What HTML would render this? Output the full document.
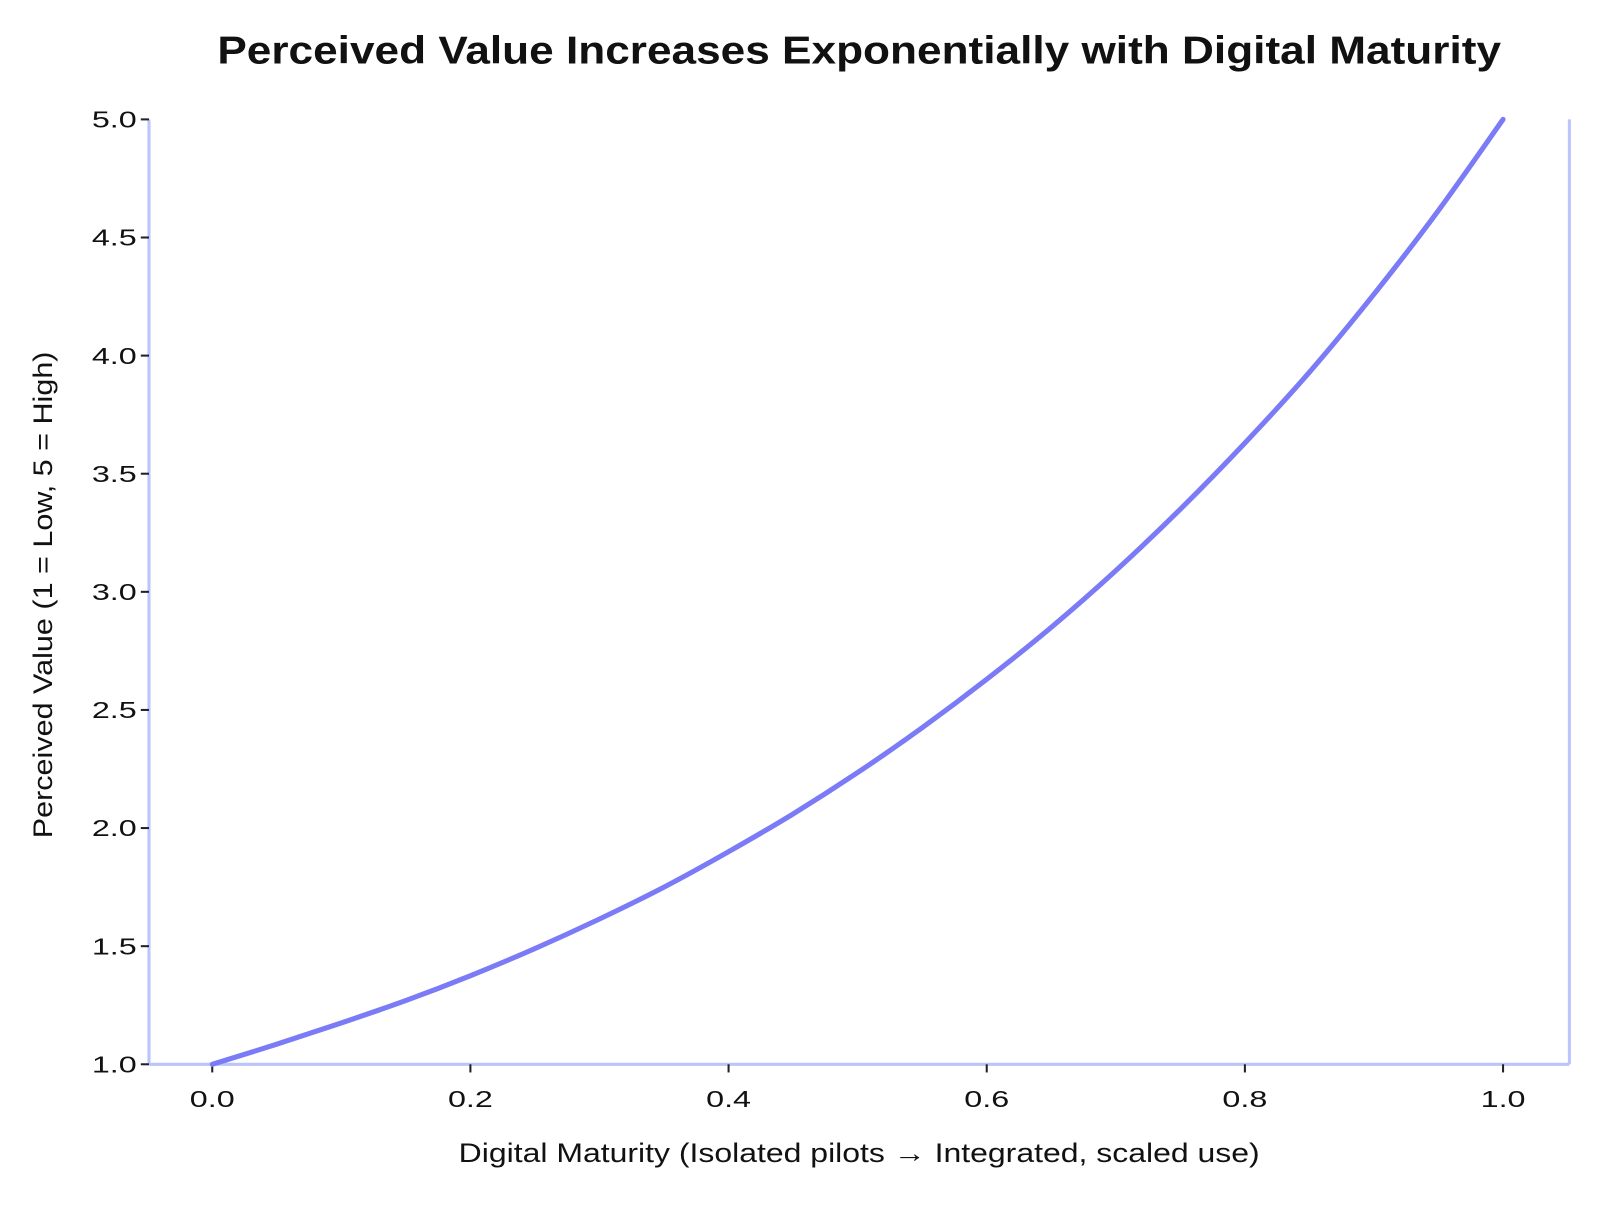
<!DOCTYPE html>
<html><head><meta charset="utf-8"><style>
html,body{margin:0;padding:0;background:#fff;}
svg text{font-family:"Liberation Sans",sans-serif;fill:#111;}
</style></head><body>
<svg width="1600" height="1200" viewBox="0 0 1568 1176" xmlns="http://www.w3.org/2000/svg">
<text x="842" y="62" text-anchor="middle" font-size="38" font-weight="bold" textLength="1258" lengthAdjust="spacingAndGlyphs">Perceived Value Increases Exponentially with Digital Maturity</text>
<g id="axes"></g>
<path id="curve" fill="none" stroke="#7b7bf7" stroke-width="5" stroke-linecap="round"/>
<text x="842" y="1139" text-anchor="middle" font-size="26" textLength="785" lengthAdjust="spacingAndGlyphs">Digital Maturity (Isolated pilots → Integrated, scaled use)</text>
<text transform="translate(51,583) rotate(-90)" text-anchor="middle" font-size="26" textLength="477" lengthAdjust="spacingAndGlyphs">Perceived Value (1 = Low, 5 = High)</text>
</svg>
<script>
const xValues=[0,0.05,0.1,0.15,0.2,0.25,0.3,0.35,0.4,0.45,0.5,0.55,0.6,0.65,0.7,0.75,0.8,0.85,0.9,0.95,1.0];
const yValues=[1.0,1.085,1.175,1.27,1.375,1.49,1.615,1.75,1.90,2.06,2.235,2.425,2.63,2.85,3.09,3.35,3.63,3.93,4.26,4.615,5.0];
const xTicks=[0,0.2,0.4,0.6,0.8,1.0];
const xTickLabels=["0.0","0.2","0.4","0.6","0.8","1.0"];
const yTicks=[1,1.5,2,2.5,3,3.5,4,4.5,5];
const yTickLabels=["1.0","1.5","2.0","2.5","3.0","3.5","4.0","4.5","5.0"];
const sx=v=>208+v*1265;
const sy=v=>1043-(v-1)*231.5;
const ns="http://www.w3.org/2000/svg";
const g=document.getElementById('axes');
function mk(t,a){const e=document.createElementNS(ns,t);for(const k in a)e.setAttribute(k,a[k]);g.appendChild(e);return e;}
let s=mk('line',{x1:146,y1:117,x2:146,y2:1043,stroke:'#bcc4fc','stroke-width':3});


s=mk('line',{x1:1538,y1:117,x2:1538,y2:1043,stroke:'#bcc4fc','stroke-width':3});


s=mk('line',{x1:146,y1:1043,x2:1538,y2:1043,stroke:'#bcc4fc','stroke-width':3});


yTicks.forEach((v,i)=>{
 const t=mk('line',{x1:138,x2:146,y1:sy(v),y2:sy(v),stroke:'#222','stroke-width':2});
 
 
 const l=mk('text',{x:134,y:sy(v)+8,'text-anchor':'end','font-size':23,textLength:44,lengthAdjust:'spacingAndGlyphs'});
 l.textContent=yTickLabels[i];
 
 
});
xTicks.forEach((v,i)=>{
 const t=mk('line',{x1:sx(v),x2:sx(v),y1:1043,y2:1051,stroke:'#222','stroke-width':2});
 
 
 const l=mk('text',{x:sx(v),y:1085,'text-anchor':'middle','font-size':23,textLength:44,lengthAdjust:'spacingAndGlyphs'});
 l.textContent=xTickLabels[i];
 
 
});
const pts=xValues.map((x,i)=>[sx(x),sy(yValues[i])]);
let d='M'+pts[0][0]+','+pts[0][1];
for(let i=0;i<pts.length-1;i++){
 const p0=pts[i-1]||pts[i],p1=pts[i],p2=pts[i+1],p3=pts[i+2]||p2;
 d+=' C'+(p1[0]+(p2[0]-p0[0])/6)+','+(p1[1]+(p2[1]-p0[1])/6)+' '+(p2[0]-(p3[0]-p1[0])/6)+','+(p2[1]-(p3[1]-p1[1])/6)+' '+p2[0]+','+p2[1];
}
document.getElementById('curve').setAttribute('d',d);
</script>
</body></html>
